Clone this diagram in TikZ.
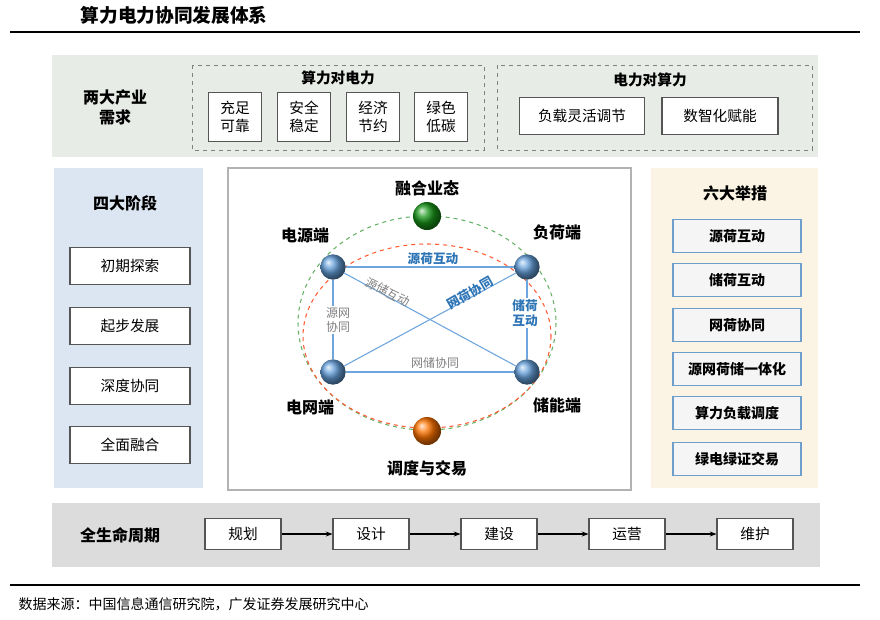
\documentclass[tikz,border=0pt]{standalone}
\usepackage{fontspec}
\setmainfont{Noto Sans CJK SC}
\usetikzlibrary{arrows.meta}
\definecolor{tgreen}{HTML}{E8ECE6}
\definecolor{lblue}{HTML}{DCE6F2}
\definecolor{cream}{HTML}{FBF4E4}
\definecolor{bgray}{HTML}{DCDCDC}
\definecolor{nblue}{HTML}{4A8FD4}
\definecolor{tblue}{HTML}{2E75B6}
\definecolor{bord}{HTML}{555555}
\tikzset{
  wbox/.style={draw=bord,fill=white,line width=0.8pt,align=center,font=\fontsize{11}{13}\selectfont,inner sep=0pt},
  mbox/.style={draw=tblue!70,line width=1pt,fill=gray!8,minimum width=96pt,minimum height=25pt,font=\fontsize{10.5}{12}\selectfont\bfseries,inner sep=0pt},
  dot/.style={circle,minimum size=19pt,inner sep=0pt,shading=ball},
  blab/.style={font=\fontsize{12}{14}\selectfont\bfseries},
  elab/.style={font=\fontsize{9}{11}\selectfont,align=center,inner sep=1pt},
  edge/.style={draw=nblue!80,line width=0.8pt},
  dashbox/.style={draw=gray,dashed,line width=0.6pt},
}
\begin{document}
\begin{tikzpicture}[x=0.75pt,y=-0.75pt]
\useasboundingbox (0,0) rectangle (880,619);
\fill[white] (0,0) rectangle (880,619);
% title
\node[font=\fontsize{14}{16}\selectfont\bfseries,anchor=west] (title) at (76,15) {算力电力协同发展体系};
\draw[line width=1pt] (10,32) -- (860,32);
% top panel
\fill[tgreen] (52,55) rectangle (818,157);
\node[font=\fontsize{12}{15}\selectfont\bfseries,align=center] (need) at (115,107) {两大产业\\需求};
\draw[dashbox] (192,65) rectangle (484,150);
\node[font=\fontsize{11}{13}\selectfont\bfseries] (sd) at (338,78) {算力对电力};
\foreach \x/\t [count=\i] in {235/充足\\可靠,304/安全\\稳定,373/经济\\节约,441/绿色\\低碳}
  \node[wbox,minimum width=40pt,minimum height=37pt] (t\i) at (\x,117) {\t};
\draw[dashbox] (497,65) rectangle (812,150);
\node[font=\fontsize{11}{13}\selectfont\bfseries] (ds) at (650,80) {电力对算力};
\node[wbox,minimum width=94pt,minimum height=28pt] (u1) at (582,116) {负载灵活调节};
\node[wbox,minimum width=87pt,minimum height=28pt] (u2) at (720,116) {数智化赋能};
% left panel
\fill[lblue] (54,168) rectangle (203,488);
\node[blab] (four) at (125,203) {四大阶段};
\foreach \y/\t [count=\i] in {266/初期探索,326/起步发展,386/深度协同,445/全面融合}
  \node[wbox,minimum width=90pt,minimum height=28pt] (s\i) at (130,\y) {\t};
% middle panel
\draw[gray!60,line width=0.8pt,fill=white] (228,168) rectangle (631,490);
\draw[green!50!black!60,dashed,line width=0.8pt] (427,323) ellipse [x radius=129,y radius=107];
\draw[red!60!orange!80,dashed,line width=0.8pt] (427,336) ellipse [x radius=124,y radius=92];
\node[dot,ball color=nblue!85] (ps) at (333,267) {};
\node[dot,ball color=nblue!85] (ld) at (527,267) {};
\node[dot,ball color=nblue!85] (gd) at (333,372) {};
\node[dot,ball color=nblue!85] (st) at (527,372) {};
\node[dot,minimum size=21pt,ball color=green!55!black!90] (fu) at (427,216) {};
\node[dot,minimum size=21pt,ball color=orange!90!red] (dt) at (427,431) {};
\draw[edge] (ps) -- (ld);
\draw[edge] (ps) -- (st);
\draw[edge] (gd) -- (ld);
\draw[edge] (ps) -- (gd);
\draw[edge] (ld) -- (st);
\draw[edge] (gd) -- (st);
\node[blab] (lfu) at (427,188) {融合业态};
\node[blab] (lps) at (305,235) {电源端};
\node[blab] (lld) at (557,232) {负荷端};
\node[blab] (lgd) at (310,407) {电网端};
\node[blab] (lst) at (557,405) {储能端};
\node[blab] (ldt) at (427,468) {调度与交易};
\node[elab,text=tblue,font=\fontsize{9.5}{11}\selectfont\bfseries] (e1) at (433,259) {源荷互动};
\node[elab,text=gray,rotate=-27] (e2) at (388,292) {源储互动};
\node[elab,text=tblue,font=\fontsize{9.5}{11}\selectfont\bfseries,rotate=30] (e3) at (470,293) {网荷协同};
\node[elab,text=gray,fill=white] (e4) at (338,320) {源网\\协同};
\node[elab,text=tblue,font=\fontsize{9.5}{11}\selectfont\bfseries,fill=white] (e5) at (525,313) {储荷\\互动};
\node[elab,text=gray] (e6) at (435,363) {网储协同};
% right panel
\fill[cream] (651,168) rectangle (818,488);
\node[blab] (six) at (735,193) {六大举措};
\foreach \y/\t [count=\i] in {236/源荷互动,280/储荷互动,325/网荷协同,369/源网荷储一体化,413/算力负载调度,459/绿电绿证交易}
  \node[mbox] (m\i) at (737,\y) {\t};
% bottom panel
\fill[bgray] (52,503) rectangle (820,567);
\node[font=\fontsize{12}{15}\selectfont\bfseries] (life) at (120,535) {全生命周期};
\foreach \x/\t [count=\i] in {243/规划,371/设计,499/建设,627/运营,755/维护}
  \node[wbox,minimum width=57pt,minimum height=23pt] (b\i) at (\x,534) {\t};
\foreach \i/\j in {1/2,2/3,3/4,4/5}
  \draw[-{Stealth[length=5pt]},line width=0.8pt] (b\i) -- (b\j);
% footer
\draw[line width=0.8pt] (10,585) -- (860,585);
\node[anchor=west,font=\fontsize{10.5}{12}\selectfont] (src) at (14,604) {数据来源：中国信息通信研究院，广发证券发展研究中心};
\end{tikzpicture}
\end{document}
